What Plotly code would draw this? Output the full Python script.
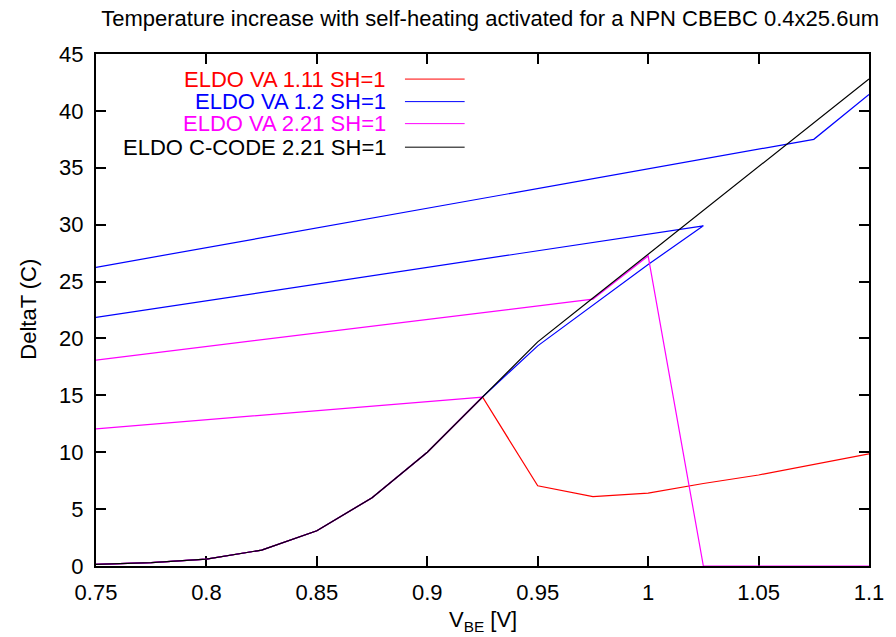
import plotly.graph_objects as go

# ---- data ----
common_x = [0.75, 0.775, 0.8, 0.825, 0.85, 0.875, 0.9, 0.925]
common_y = [0.15, 0.3, 0.6, 1.4, 3.1, 6.0, 10.0, 14.85]

red_x = common_x + [0.95, 0.975, 1.0, 1.025, 1.05, 1.075, 1.1]
red_y = common_y + [7.05, 6.1, 6.4, 7.25, 8.0, 8.9, 9.85]

# None = break in the polyline (sweep restarts at the left edge)
blue_x = common_x + [0.95, 0.975, 1.0, 1.025, 0.75, None, 0.75, 1.075, 1.1]
blue_y = common_y + [19.35, 22.9, 26.5, 29.9, 21.85, None, 26.25, 37.5, 41.45]

magenta_x = common_x + [0.75, None, 0.75, 0.975, 1.0, 1.025, 1.05, 1.075, 1.1]
magenta_y = common_y + [12.05, None, 18.1, 23.45, 27.25, 0.0, 0.0, 0.0, 0.0]

black_x = common_x + [0.95, 0.975, 1.0, 1.025, 1.05, 1.075, 1.1]
black_y = common_y + [19.7, 23.55, 27.4, 31.25, 35.1, 38.95, 42.8]

names = ["ELDO VA 1.11 SH=1", "ELDO VA 1.2 SH=1", "ELDO VA 2.21 SH=1", "ELDO C-CODE 2.21 SH=1"]
colors = ["#ff0000", "#0000ff", "#ff00ff", "#000000"]
series = [(red_x, red_y), (blue_x, blue_y), (magenta_x, magenta_y), (black_x, black_y)]

x_ticks = [0.75, 0.8, 0.85, 0.9, 0.95, 1.0, 1.05, 1.1]
x_tick_text = ["0.75", "0.8", "0.85", "0.9", "0.95", "1", "1.05", "1.1"]
y_ticks = [0, 5, 10, 15, 20, 25, 30, 35, 40, 45]

FONT = "Liberation Sans, Arial, Helvetica, sans-serif"
FS = 22

fig = go.Figure()
for (xs, ys), nm, c in zip(series, names, colors):
    fig.add_trace(go.Scatter(x=xs, y=ys, mode="lines", name=nm, connectgaps=False,
                             cliponaxis=False,
                             line=dict(color=c, width=1.2), showlegend=False))

# legend drawn manually (gnuplot style: right-aligned text, sample to the right)
leg_y = [0.951, 0.907, 0.864, 0.818]
for nm, c, yy in zip(names, colors, leg_y):
    fig.add_annotation(x=0.378, y=yy, xref="paper", yref="paper", text=nm,
                       showarrow=False, xanchor="right", yanchor="middle",
                       font=dict(family=FONT, size=FS, color=c))
    fig.add_shape(type="line", xref="paper", yref="paper", x0=0.3997, x1=0.4769,
                  y0=yy, y1=yy, line=dict(color=c, width=1))

axis_common = dict(showline=True, linecolor="black", linewidth=2, mirror="allticks",
                   ticks="inside", ticklen=10, tickwidth=2, tickcolor="black",
                   showgrid=False, zeroline=False, layer="below traces",
                   tickfont=dict(family=FONT, size=FS, color="black"))

fig.update_xaxes(range=[0.75, 1.1], tickvals=x_ticks, ticktext=x_tick_text,
                 ticklabelstandoff=6, **axis_common)
fig.update_yaxes(range=[0, 45], tickvals=y_ticks, ticklabelstandoff=6, **axis_common)

fig.add_annotation(x=0.5, y=-0.108, xref="paper", yref="paper",
                   text="V<sub>BE</sub> [V]", showarrow=False, yanchor="middle",
                   font=dict(family=FONT, size=FS, color="black"))
fig.add_annotation(x=-0.087, y=0.502, xref="paper", yref="paper",
                   text="DeltaT (C)", showarrow=False, textangle=-90,
                   xanchor="center", yanchor="middle",
                   font=dict(family=FONT, size=FS, color="black"))

fig.update_layout(
    width=896, height=637,
    margin=dict(l=96, r=22, t=54, b=71),
    paper_bgcolor="white", plot_bgcolor="white",
    title=dict(text="Temperature increase with self-heating activated for a NPN CBEBC 0.4x25.6um",
               x=0.547, xanchor="center", y=0.972, yanchor="middle",
               font=dict(family=FONT, size=FS, color="black")),
)

fig.write_html("out.html")
